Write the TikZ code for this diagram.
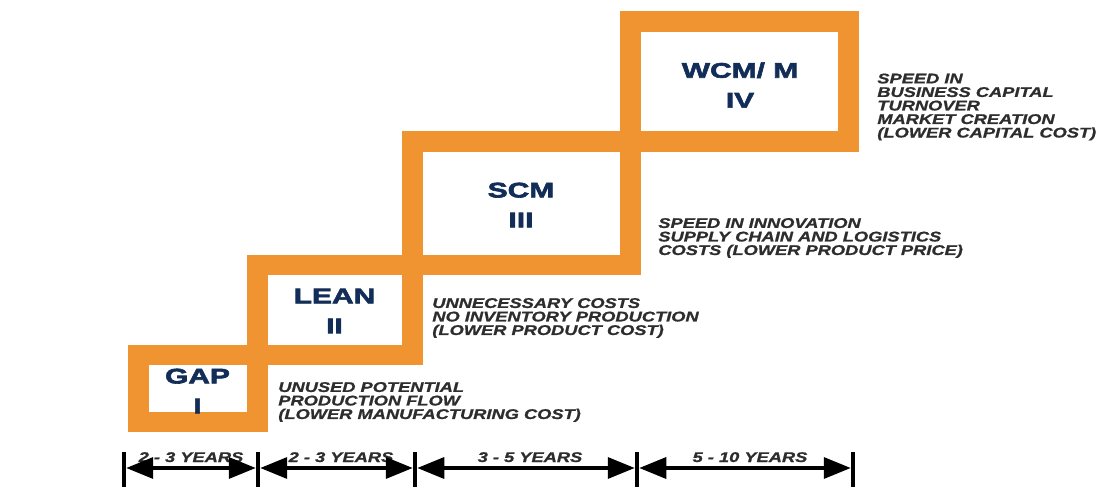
\documentclass[tikz,border=0pt]{standalone}
\usepackage{fontspec}
\setmainfont{Liberation Sans}
\newfontfamily\stagefont[FakeStretch=1.42,FakeBold=3]{Liberation Sans Bold}
\newfontfamily\notefont[FakeStretch=1.3,FakeBold=1]{Liberation Sans Bold Italic}
\usetikzlibrary{arrows.meta}
\definecolor{stageorange}{RGB}{240,148,50}
\definecolor{stagenavy}{RGB}{18,46,88}
\definecolor{notegray}{RGB}{45,45,45}
\begin{document}
\begin{tikzpicture}[x=0.02cm, y=-0.02cm, >={Triangle[length=0.54cm,width=0.42cm]},
        frame/.style={draw=stageorange, line width=0.42cm},
        stagelabel/.style={align=center, text=stagenavy, font=\stagefont\fontsize{12}{17}\selectfont},
        note/.style={anchor=west, align=left, inner sep=0pt, text=notegray, font=\notefont\fontsize{8}{7.7}\selectfont},
        years/.style={anchor=base, inner sep=0pt, text=notegray, font=\notefont\fontsize{8}{7.7}\selectfont}]
        \useasboundingbox (0,0) rectangle (1105,489);

        % Stages
        \draw[frame] (138,355) rectangle (257,422);
        \draw[frame] (257,265) rectangle (412,355);
        \draw[frame] (412,142) rectangle (630,265);
        \draw[frame] (630,22) rectangle (848,142);

        \node[stagelabel] (gap) at (197.5,391) {GAP\\I};
        \node[stagelabel] (lean) at (334.5,311) {LEAN\\II};
        \node[stagelabel] (scm) at (521,205) {SCM\\III};
        \node[stagelabel] (wcm) at (740,85) {WCM/ M\\IV};

        % Notes
        \node[note] (gapnote) at (278,402) {UNUSED POTENTIAL\\PRODUCTION FLOW\\(LOWER MANUFACTURING COST)};
        \node[note] (leannote) at (432,318) {UNNECESSARY COSTS\\NO INVENTORY PRODUCTION\\(LOWER PRODUCT COST)};
        \node[note] (scmnote) at (658,238) {SPEED IN INNOVATION\\SUPPLY CHAIN AND LOGISTICS\\COSTS (LOWER PRODUCT PRICE)};
        \node[note] (wcmnote) at (877,107) {SPEED IN\\BUSINESS CAPITAL\\TURNOVER\\MARKET CREATION\\(LOWER CAPITAL COST)};

        % Time line
        \node[years] (span1) at (191,462) {2 - 3 YEARS};
        \node[years] (span2) at (341,462) {2 - 3 YEARS};
        \node[years] (span3) at (530,462) {3 - 5 YEARS};
        \node[years] (span4) at (750,462) {5 - 10 YEARS};

        \foreach \x/\n in {124/0,258/1,415/2,637/3,853/4} {
            \coordinate (t\n) at (\x,468);
            \draw[line width=0.09cm] (\x,452) -- (\x,487);
        }
        \foreach \a/\b in {0/1,1/2,2/3,3/4}
            \draw[<->, line width=0.07cm, shorten <=0.045cm, shorten >=0.045cm] (t\a) -- (t\b);
    \end{tikzpicture}
\end{document}
